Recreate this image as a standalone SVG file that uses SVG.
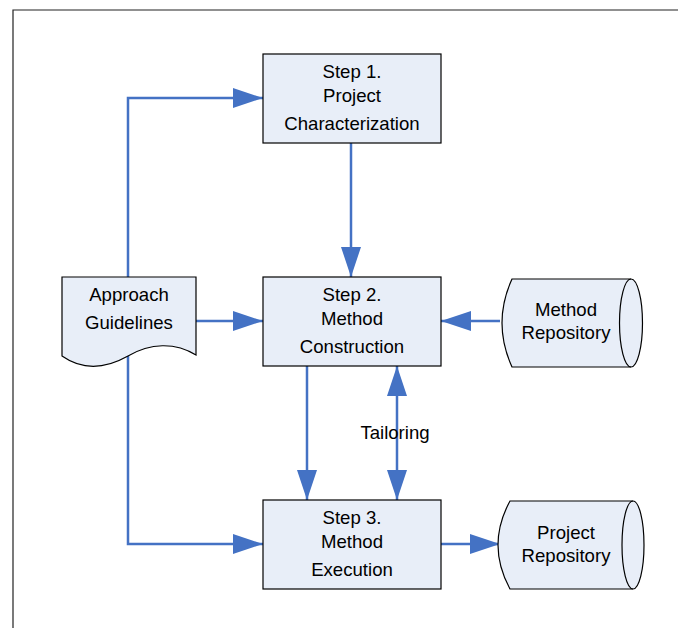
<svg xmlns="http://www.w3.org/2000/svg" width="678" height="628" viewBox="0 0 678 628">
<defs>
<marker id="ah" markerUnits="userSpaceOnUse" markerWidth="30" markerHeight="20" refX="30" refY="10" orient="auto-start-reverse" viewBox="0 0 30 20">
<path d="M0,0 L30,10 L0,20 Z" fill="#4472C4"/>
</marker>
<style>
.box{fill:#E8EEF8;stroke:#000;stroke-width:1.2}
.t{font-family:"Liberation Sans",Arial,sans-serif;font-size:18.6px;fill:#000;text-anchor:middle}
.c{fill:none;stroke:#4472C4;stroke-width:2.5}
.a{marker-end:url(#ah)}
</style>
</defs>
<rect width="678" height="628" fill="#fff"/>
<path d="M13,628 V10 H678" fill="none" stroke="#222" stroke-width="1.2"/>
<g id="connectors">
<path class="c a" d="M128,277 V98 H263"/>
<path class="c a" d="M351,143 V277"/>
<path class="c a" d="M196,321 H263"/>
<path class="c a" d="M500,321 H441"/>
<path class="c a" d="M307,366 V500"/>
<path class="c a" d="M397,366 V500" style="marker-start:url(#ah)"/>
<path class="c a" d="M128,356 V544 H263"/>
<path class="c a" d="M441,544 H500"/>
<text class="t" x="395" y="439">Tailoring</text>
</g>
<g id="step1">
<rect class="box" x="263" y="54" width="178" height="89"/>
<text class="t" x="352" y="78">Step 1.</text>
<text class="t" x="352" y="102">Project</text>
<text class="t" x="352" y="130">Characterization</text>
</g>
<g id="step2">
<rect class="box" x="263" y="277" width="178" height="89"/>
<text class="t" x="352" y="301">Step 2.</text>
<text class="t" x="352" y="325">Method</text>
<text class="t" x="352" y="353">Construction</text>
</g>
<g id="step3">
<rect class="box" x="263" y="500" width="178" height="89"/>
<text class="t" x="352" y="524">Step 3.</text>
<text class="t" x="352" y="548">Method</text>
<text class="t" x="352" y="576">Execution</text>
</g>
<g id="approach">
<path class="box" d="M62,277 H196 V355 C175,342 150,343 128,356 C105,369 82,370 62,356 Z"/>
<text class="t" x="129" y="301">Approach</text>
<text class="t" x="129" y="329">Guidelines</text>
</g>
<g id="methodRepo">
<path class="box" d="M512,279 H631 A11.5,44 0 0 1 631,367 H512 Q492,323 512,279 Z"/>
<path d="M631,279 A11.5,44 0 0 0 631,367" fill="none" stroke="#000" stroke-width="1.2"/>
<text class="t" x="566" y="316">Method</text>
<text class="t" x="566" y="339">Repository</text>
</g>
<g id="projectRepo">
<path class="box" d="M510,501 H633 A11,44 0 0 1 633,589 H510 Q486,545 510,501 Z"/>
<path d="M633,501 A11,44 0 0 0 633,589" fill="none" stroke="#000" stroke-width="1.2"/>
<text class="t" x="566" y="539">Project</text>
<text class="t" x="566" y="562">Repository</text>
</g>
</svg>
